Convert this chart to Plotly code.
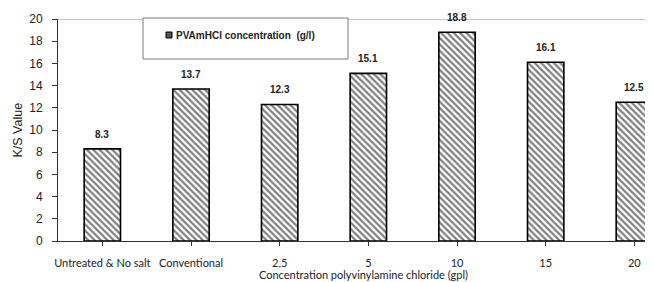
import plotly.graph_objects as go

categories = ["Untreated & No salt", "Conventional", "2,5", "5", "10", "15", "20"]
ks_values = [8.3, 13.7, 12.3, 15.1, 18.8, 16.1, 12.5]
y_ticks = [0, 2, 4, 6, 8, 10, 12, 14, 16, 18, 20]
series_name = "PVAmHCl concentration  (g/l)"

OFF = 8  # page body margin
W, H = 653 - OFF, 282 - OFF
L, T, B = 58 - OFF, 19 - OFF, 41
plot_w = W - L
plot_h = H - T - B

def px_x(p):
    return (p - OFF - L) / plot_w

def px_y(p):
    return (H - B - (p - OFF)) / plot_h

fig = go.Figure()
fig.add_trace(go.Bar(
    x=list(range(len(categories))), y=ks_values, name=series_name,
    width=0.41,
    marker=dict(color="white", line=dict(color="black", width=1.6),
                pattern=dict(shape="\\", size=4.5, solidity=0.5, fgcolor="black", bgcolor="white")),
    showlegend=False,
))

for i, v in enumerate(ks_values):
    fig.add_annotation(x=i, y=v, text=f"<b>{v:.1f}</b>", showarrow=False, yanchor="bottom", yshift=7,
                       font=dict(family="Liberation Sans", size=10, color="#222"))

shapes = [
    dict(type="line", xref="paper", yref="y", x0=0, x1=1, y0=20, y1=20,
         line=dict(color="#8a8a8a", width=1), layer="above"),
    dict(type="rect", xref="paper", yref="paper", x0=px_x(143), x1=px_x(348), y0=px_y(59), y1=px_y(18),
         fillcolor="white", line=dict(color="#7a7a7a", width=1), layer="above"),
    dict(type="rect", xref="paper", yref="paper", x0=px_x(166), x1=px_x(172), y0=px_y(38), y1=px_y(32),
         fillcolor="#555", line=dict(color="black", width=1), layer="above"),
]
fig.update_layout(shapes=shapes)

fig.add_annotation(xref="paper", yref="paper", x=px_x(174), y=px_y(35), text="<b>" + series_name + "</b>",
                   showarrow=False, xanchor="left", yanchor="middle",
                   font=dict(family="Liberation Sans", size=10, color="#222"))

fig.add_annotation(xref="paper", yref="paper", x=px_x(364), y=px_y(274),
                   text="Concentration polyvinylamine chloride (gpl)", showarrow=False,
                   xanchor="center", yanchor="middle",
                   font=dict(family="Lato", size=11, color="#222"))

fig.add_annotation(xref="paper", yref="paper", x=px_x(17.5), y=px_y(130),
                   text="K/S Value", textangle=-90, showarrow=False,
                   xanchor="center", yanchor="middle",
                   font=dict(family="Liberation Sans", size=12.5, color="#222"))

fig.update_xaxes(
    range=[-0.5, -0.5 + plot_w / 88.67],
    tickmode="array", tickvals=list(range(len(categories))), ticktext=categories,
    tickson="boundaries", ticks="outside", ticklen=4, tickcolor="#333",
    showline=True, linecolor="#333", linewidth=1, showgrid=False, zeroline=False,
    tickfont=dict(family="Lato", size=11, color="#222"), ticklabelstandoff=8,
)
fig.update_yaxes(
    range=[0, 20], tickmode="array", tickvals=y_ticks,
    ticks="outside", ticklen=5, tickcolor="#333",
    showline=True, linecolor="#333", linewidth=1, showgrid=False, zeroline=False,
    tickfont=dict(family="Liberation Sans", size=12, color="#222"), ticklabelstandoff=7,
)
fig.update_layout(
    width=W, height=H, margin=dict(l=L, r=0, t=T, b=B),
    paper_bgcolor="white", plot_bgcolor="white", showlegend=False,
)
fig.write_html("out.html")
